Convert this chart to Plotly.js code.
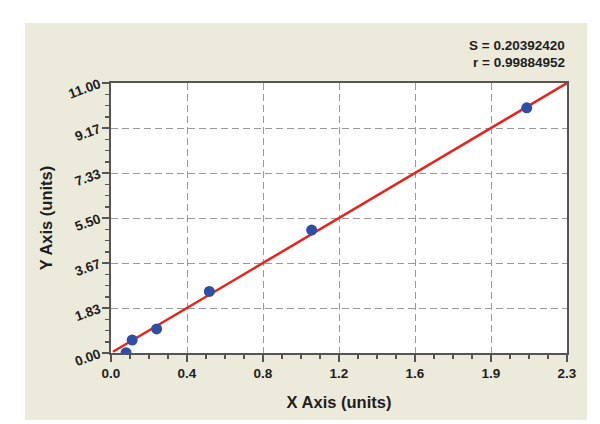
<!DOCTYPE html>
<html>
<head>
<meta charset="utf-8">
<script src="https://cdn.plot.ly/plotly-3.0.1.min.js"></script>
<style>
  html, body { margin: 0; padding: 0; background: #ffffff; width: 600px; height: 424px; overflow: hidden; }
  #chart { position: absolute; left: 25px; top: 23px; width: 562px; height: 397px; }
</style>
</head>
<body>
<div id="chart"></div>
<script>
// Data
const pointX = [0.076, 0.107, 0.230, 0.496, 1.012, 2.097];
const pointY = [0.01, 0.53, 0.98, 2.51, 5.01, 9.99];
const fitX = [0.01, 2.30];
const fitY = [0.05, 11.00];

const xTickVals = [0, 0.38333, 0.76667, 1.15, 1.53333, 1.91667, 2.3];
const xTickText = ['0.0', '0.4', '0.8', '1.2', '1.6', '1.9', '2.3'];
const yTickVals = [0, 1.83333, 3.66667, 5.5, 7.33333, 9.16667, 11];
const yTickText = ['0.00', '1.83', '3.67', '5.50', '7.33', '9.17', '11.00'];

const statS = 'S = 0.20392420';
const statR = 'r = 0.99884952';

const FONT = 'Liberation Sans, Arial, sans-serif';

const traces = [
  {
    x: fitX, y: fitY, type: 'scatter', mode: 'lines',
    line: { color: '#E8231C', width: 2.5 },
    hoverinfo: 'skip', showlegend: false
  },
  {
    x: pointX, y: pointY, type: 'scatter', mode: 'markers',
    marker: { color: '#2E4EA6', size: 11, line: { width: 0 } },
    showlegend: false
  }
];

const axisCommon = {
  showline: true, linecolor: '#555555', linewidth: 2, mirror: true,
  ticks: 'outside', ticklen: 7, tickwidth: 1.5, tickcolor: '#555555',
  showgrid: true, gridcolor: '#9a9a9a', gridwidth: 1, griddash: '7px,4px',
  zeroline: false, tickmode: 'array',
  tickfont: { family: FONT, size: 13.5, color: '#1e1e1e', weight: 'bold' }
};

const layout = {
  width: 562, height: 397,
  paper_bgcolor: '#ECEADB', plot_bgcolor: '#ffffff',
  margin: { l: 86, r: 20, t: 60, b: 67 },
  showlegend: false,
  xaxis: Object.assign({}, axisCommon, {
    range: [0, 2.3], tickvals: xTickVals, ticktext: xTickText,
    minor: { tick0: 0, dtick: 2.3 / 24, ticks: 'outside', ticklen: 4, tickcolor: '#555555', showgrid: false },
    title: { text: 'X Axis (units)', standoff: 16, font: { family: FONT, size: 16.5, color: '#1e1e1e', weight: 'bold' } }
  }),
  yaxis: Object.assign({}, axisCommon, {
    range: [0, 11], tickvals: yTickVals, ticktext: yTickText, tickangle: -20,
    minor: { tick0: 0, dtick: 11 / 24, ticks: 'outside', ticklen: 4, tickcolor: '#555555', showgrid: false },
    title: { text: 'Y Axis (units)', standoff: 10, font: { family: FONT, size: 16.5, color: '#1e1e1e', weight: 'bold' } }
  }),
  annotations: [
    { text: statS, xref: 'paper', yref: 'paper', x: 1, y: 1, xanchor: 'right', yanchor: 'middle',
      yshift: 38, showarrow: false, font: { family: FONT, size: 13.5, color: '#1e1e1e', weight: 'bold' } },
    { text: statR, xref: 'paper', yref: 'paper', x: 1, y: 1, xanchor: 'right', yanchor: 'middle',
      yshift: 21, showarrow: false, font: { family: FONT, size: 13.5, color: '#1e1e1e', weight: 'bold' } }
  ]
};

Plotly.newPlot('chart', traces, layout, { displayModeBar: false, staticPlot: true });
</script>
</body>
</html>
